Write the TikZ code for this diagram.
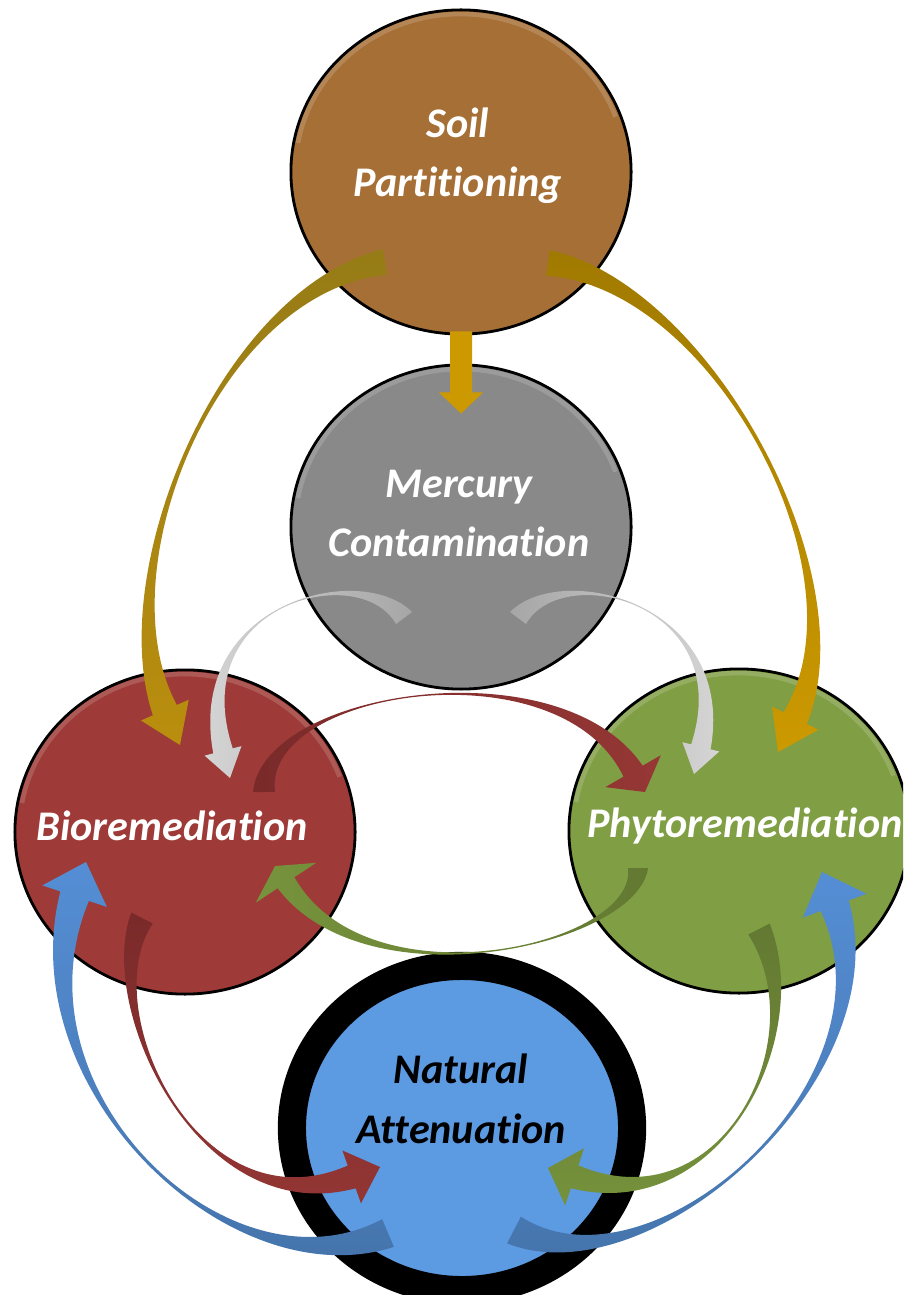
\documentclass[tikz,border=0pt]{standalone}
\usepackage{fontspec}
\setmainfont{Carlito}[Ligatures=NoCommon]
\usetikzlibrary{calc,shapes.geometric}

\definecolor{soilbrown}{RGB}{166,111,54}
\definecolor{mercgray}{RGB}{137,137,137}
\definecolor{biored}{RGB}{158,59,56}
\definecolor{phytogreen}{RGB}{128,158,68}
\definecolor{natblue}{RGB}{92,154,226}
\definecolor{goldA}{RGB}{160,122,0}
\definecolor{goldB}{RGB}{204,153,0}
\definecolor{oliveA}{RGB}{150,124,22}
\definecolor{oliveB}{RGB}{186,142,14}
\definecolor{greyA}{RGB}{166,166,166}
\definecolor{greyB}{RGB}{217,217,217}
\definecolor{redA}{RGB}{122,42,42}
\definecolor{redB}{RGB}{149,55,53}
\definecolor{greenA}{RGB}{99,121,50}
\definecolor{greenB}{RGB}{119,147,60}
\definecolor{blueA}{RGB}{68,114,168}
\definecolor{blueB}{RGB}{85,142,213}

% curved arrow: #1 paint, #2 body width, #3 half head, #4 head length, #5 tail, #6 #7 controls, #8 tip
\newcommand{\swoosh}[8]{%
  \coordinate (sw-h) at ($(#8)!#4*0.01cm!(#7)$);
  \path[#1] ($(#5)!#2*0.005cm!90:(#6)$) .. controls (#6) and (#7) .. ($(sw-h)!#2*0.005cm!90:(#8)$)
     -- ($(sw-h)!#3*0.01cm!90:(#8)$) -- (#8) -- ($(sw-h)!#3*0.01cm!-90:(#8)$)
     -- ($(sw-h)!#2*0.005cm!-90:(#8)$) .. controls (#7) and (#6) .. ($(#5)!#2*0.005cm!-90:(#6)$) -- cycle;
}

\begin{document}
\begin{tikzpicture}[x=0.01cm,y=-0.01cm,
  ball/.style={ellipse, minimum width=3.4cm, minimum height=3.24cm, draw=black, line width=0.8pt},
  shine/.style={white, opacity=.16, line width=1.3pt},
  lbl/.style={text=white, font=\fontsize{12}{17}\selectfont\bfseries\itshape, align=center, inner sep=0pt}]
\path[use as bounding box, clip] (0,0) rectangle (903,1295);

%---------------------------------------------------------------------------------------- CIRCLES
\node[ball, fill=soilbrown] (soil) at (461,172) {};
\node[ball, fill=mercgray] (merc) at (461,527) {};
\node[ball, fill=biored] (bio) at (185,832) {};
\node[ball, fill=phytogreen] (phyto) at (739,831) {};
\node[ball, fill=natblue, line width=8pt] (natur) at (462,1128) {};

\foreach \b in {soil,merc,bio,phyto}   % ---------------------------------------------- bevel shine
  \draw[shine] ($(\b)+(-163,-29)$) arc[start angle=190, end angle=340, x radius=165, y radius=156];

%---------------------------------------------------------------------------------------- ENDS
\coordinate (sb-tail) at ($(soil)+(-76,90)$);   \coordinate (sb-tip) at ($(bio)+(-5,-87)$);
\coordinate (sp-tail) at ($(soil)+(87,91)$);    \coordinate (sp-tip) at ($(phyto)+(39,-79)$);
\coordinate (sm-tip) at ($(merc.north)+(0,50)$);
\coordinate (mb-tail) at ($(merc)+(-57,91)$);   \coordinate (mb-tip) at ($(bio)+(45,-54)$);
\coordinate (mp-tail) at ($(merc)+(57,91)$);    \coordinate (mp-tip) at ($(phyto)+(-45,-57)$);
\coordinate (bp-tail) at ($(bio)+(79,-40)$);    \coordinate (bp-tip) at ($(phyto)+(-94,-39)$);
\coordinate (pb-tail) at ($(phyto)+(-101,37)$); \coordinate (pb-tip) at ($(bio)+(90,34)$);
\coordinate (bn-tail) at ($(bio)+(-43,86)$);    \coordinate (bn-tip) at ($(natur)+(-82,39)$);
\coordinate (nb-tail) at ($(natur)+(-74,105)$); \coordinate (nb-tip) at ($(bio)+(-99,30)$);
\coordinate (pn-tail) at ($(phyto)+(20,98)$);   \coordinate (pn-tip) at ($(natur)+(86,40)$);
\coordinate (np-tail) at ($(natur)+(52,102)$);  \coordinate (np-tip) at ($(phyto)+(83,41)$);

%---------------------------------------------------------------------------------------- SOIL ARROWS
\fill[goldB] ($(soil.south)+(-11,-4)$) -- ($(sm-tip)+(-11,-21)$) -- ($(sm-tip)+(-22,-21)$) -- (sm-tip)
  -- ($(sm-tip)+(22,-21)$) -- ($(sm-tip)+(11,-21)$) -- ($(soil.south)+(11,-4)$) -- cycle;
\swoosh{shade, top color=oliveA, bottom color=oliveB}{26}{26}{38}{sb-tail}{220,290}{104,570}{sb-tip}
\swoosh{shade, top color=goldA, bottom color=goldB}{26}{26}{38}{sp-tail}{710,285}{868,574}{sp-tip}

%---------------------------------------------------------------------------------------- MERCURY ARROWS
\swoosh{shade, left color=greyB, right color=greyA}{20}{19}{28}{mb-tail}{360,560}{185,603}{mb-tip}
\swoosh{shade, left color=greyA, right color=greyB}{20}{19}{28}{mp-tail}{562,560}{737,603}{mp-tip}

%---------------------------------------------------------------------------------------- BIO <-> PHYTO
\swoosh{shade, left color=redA, right color=redB}{22}{32}{24}{bp-tail}{262,690}{560,644}{bp-tip}
\swoosh{shade, left color=greenB, right color=greenA}{20}{36}{20}{pb-tail}{638,945}{368,1007}{pb-tip}

%---------------------------------------------------------------------------------------- NATURAL ATTENUATION
\swoosh{shade, top color=redA, bottom color=redB}{24}{28}{30}{bn-tail}{95,1010}{200,1230}{bn-tip}
\swoosh{shade, top color=blueB, bottom color=blueA}{30}{34}{36}{nb-tail}{230,1300}{10,1090}{nb-tip}
\swoosh{shade, top color=greenA, bottom color=greenB}{24}{30}{28}{pn-tail}{815,1040}{720,1225}{pn-tip}
\swoosh{shade, top color=blueB, bottom color=blueA}{30}{34}{36}{np-tail}{650,1300}{900,1080}{np-tip}

%---------------------------------------------------------------------------------------- LABELS
\node[lbl, anchor=base] (soil-lbl) at (458,197) {Soil\\Partitioning};
\node[lbl, anchor=base] (merc-lbl) at (459,557) {Mercury\\Contamination};
\node[lbl, anchor=base] (bio-lbl) at (172,840) {Bioremediation};
\node[lbl, anchor=base] (phyto-lbl) at (745,837) {Phytoremediation};
\node[lbl, anchor=base, text=black] (natur-lbl) at (461,1143) {Natural\\Attenuation};

\end{tikzpicture}
\end{document}
